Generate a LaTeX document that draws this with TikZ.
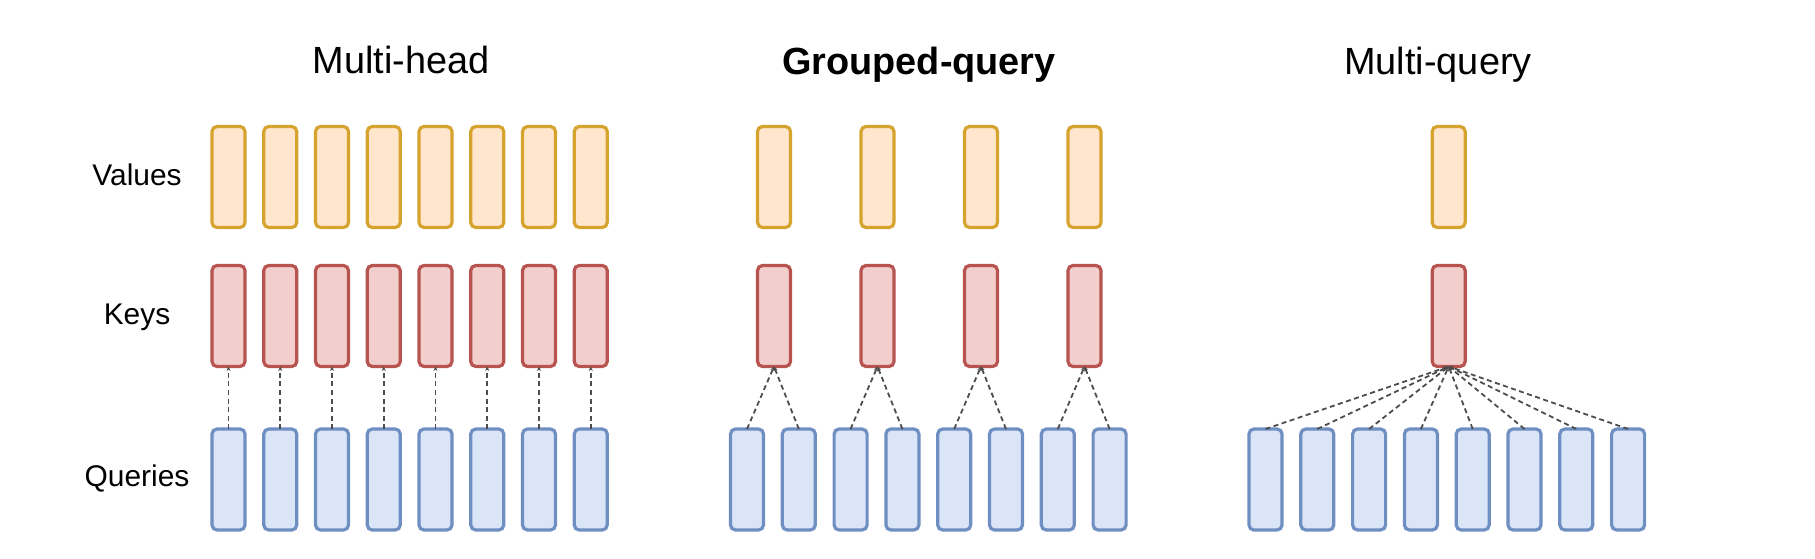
\documentclass[tikz,border=0pt]{standalone}
\usepackage{fontspec}
\setmainfont{Liberation Sans}
\usetikzlibrary{arrows.meta}
\definecolor{vfill}{HTML}{FFE6CC}\definecolor{vdraw}{HTML}{D6A32F}
\definecolor{kfill}{HTML}{F2CECD}\definecolor{kdraw}{HTML}{B85450}
\definecolor{qfill}{HTML}{DAE6F8}\definecolor{qdraw}{HTML}{6F8EC1}
\definecolor{lnk}{HTML}{4D4D4D}
\tikzset{
  cell/.style={rectangle,rounded corners=5bp,line width=3.2bp,minimum width=33bp,minimum height=101bp,inner sep=0pt,outer sep=0pt},
  vbox/.style={cell,draw=vdraw,fill=vfill},
  kbox/.style={cell,draw=kdraw,fill=kfill},
  qbox/.style={cell,draw=qdraw,fill=qfill},
  link/.style={draw=lnk,line width=1.8bp,dash pattern=on 5bp off 3.5bp,-{Stealth[length=4.5bp,width=4bp]}},
  ttl/.style={font=\fontsize{38}{44}\selectfont,anchor=base,inner sep=0pt},
  lbl/.style={font=\fontsize{30}{36}\selectfont,anchor=base,inner sep=0pt},
}
\begin{document}
\begin{tikzpicture}[x=1bp,y=-1bp]
\useasboundingbox (0,0) rectangle (1815,559);
\fill[white] (0,0) rectangle (1815,559);
% titles
\node[ttl] (t1) at (401,74) {Multi-head};
\node[ttl,font=\fontsize{38}{44}\selectfont\bfseries] (t2) at (919,75) {Grouped-query};
\node[ttl] (t3) at (1438,75) {Multi-query};
% row labels
\node[lbl] (lv) at (137,186) {Values};
\node[lbl] (lk) at (137,325) {Keys};
\node[lbl] (lq) at (137,486) {Queries};
% Multi-head
\foreach \i in {0,...,7}{
  \pgfmathsetmacro{\cx}{228.5+51.75*\i}
  \node[vbox] (mv\i) at (\cx,177) {};
  \node[kbox] (mk\i) at (\cx,316) {};
  \node[qbox] (mq\i) at (\cx,479.5) {};
  \draw[link] (mq\i.north) -- (mk\i.south);
}
% Grouped-query
\foreach \g in {0,...,3}{
  \pgfmathsetmacro{\cx}{774+103.5*\g}
  \node[vbox] (gv\g) at (\cx,177) {};
  \node[kbox] (gk\g) at (\cx,316) {};
}
\foreach \i in {0,...,7}{
  \pgfmathsetmacro{\cx}{747+51.8*\i}
  \pgfmathtruncatemacro{\g}{int(\i/2)}
  \node[qbox] (gq\i) at (\cx,479.5) {};
  \draw[link] (gq\i.north) -- (gk\g.south);
}
% Multi-query
\node[vbox] (xv) at (1448.7,177) {};
\node[kbox] (xk) at (1448.7,316) {};
\foreach \i in {0,...,7}{
  \pgfmathsetmacro{\cx}{1265.5+51.8*\i}
  \node[qbox] (xq\i) at (\cx,479.5) {};
  \draw[link] (xq\i.north) -- (xk.south);
}
\end{tikzpicture}
\end{document}
